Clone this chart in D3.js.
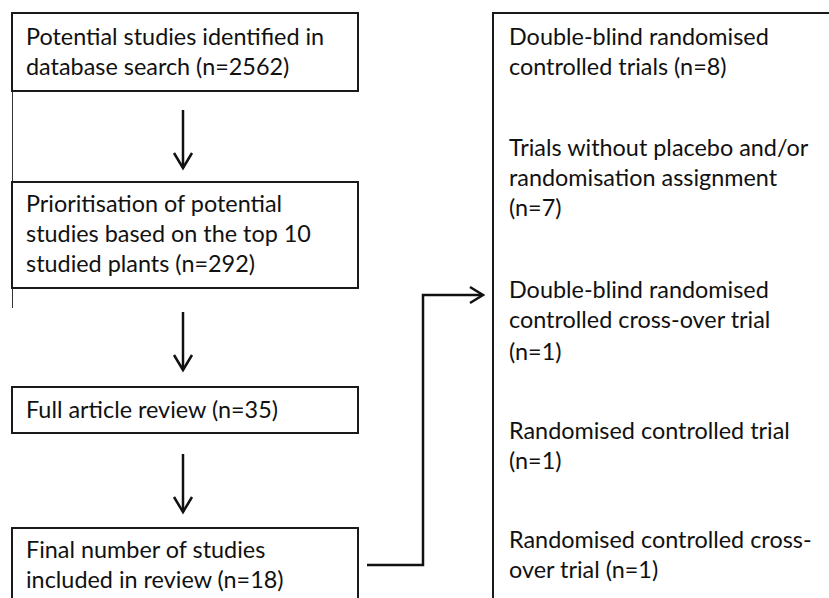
<!DOCTYPE html>
<html lang="en">
  <head>
    <meta charset="utf-8">
    <title>Flow</title>
    <script src="https://d3js.org/d3.v7.js"></script>
    <style>
      body { margin: 0; background: white; }
      text { font-family: Lato, "Open Sans", sans-serif; font-size: 23.4px; fill: #111; }
    </style>
  </head>
  <body>
    <script>
    // box texts, top to bottom on the left
    const stepTexts = [
      ["Potential studies identified in", "database search (n=2562)"],
      ["Prioritisation of potential", "studies based on the top 10", "studied plants (n=292)"],
      ["Full article review (n=35)"],
      ["Final number of studies", "included in review (n=18)"]
    ];

    // study designs in the right box
    const designTexts = [
      ["Double-blind randomised", "controlled trials (n=8)"],
      ["Trials without placebo and/or", "randomisation assignment", "(n=7)"],
      ["Double-blind randomised", "controlled cross-over trial", "(n=1)"],
      ["Randomised controlled trial", "(n=1)"],
      ["Randomised controlled cross-", "over trial (n=1)"]
    ];

    const w = 829, h = 598;
    const lineH = 30;

    const svg = d3.select("body").append("svg")
                  .attr("width", w).attr("height", h);

    svg.append("rect").attr("width", w).attr("height", h).attr("fill", "white");

    // left column geometry
    const boxX = d3.scaleLinear().domain([0, 1]).range([12, 358]);
    const boxTop = [13, 182, 387, 528];
    const boxBottom = [91, 288, 433, 640];
    const firstBase = [45, 212, 418, 558];

    const g = svg.append("g");

    // thin stray line on the left edge
    g.append("line")
     .attr("x1", 12.5).attr("x2", 12.5)
     .attr("y1", boxBottom[0]).attr("y2", 308)
     .attr("stroke", "#333").attr("stroke-width", 1);

    stepTexts.forEach((lines, i) => {
      g.append("rect")
       .attr("x", boxX(0)).attr("y", boxTop[i])
       .attr("width", boxX(1) - boxX(0))
       .attr("height", boxBottom[i] - boxTop[i])
       .attr("fill", "none").attr("stroke", "#1a1a1a").attr("stroke-width", 2);

      g.selectAll(null).data(lines).enter().append("text")
       .attr("x", 26)
       .attr("y", (d, j) => firstBase[i] + j * lineH)
       .text(d => d);
    });

    // down arrows between left boxes
    const arrowX = 183;
    const arrows = [[110, 168], [312, 370], [454, 512]];
    arrows.forEach(a => {
      g.append("line")
       .attr("x1", arrowX).attr("x2", arrowX)
       .attr("y1", a[0]).attr("y2", a[1])
       .attr("stroke", "#111").attr("stroke-width", 2.5);
      g.append("path")
       .attr("d", `M${arrowX - 9},${a[1] - 15} L${arrowX},${a[1]} L${arrowX + 9},${a[1] - 15}`)
       .attr("fill", "none").attr("stroke", "#111").attr("stroke-width", 2.5);
    });

    // elbow connector to the right box
    g.append("path")
     .attr("d", "M367,565 L423,565 L423,295 L482,295")
     .attr("fill", "none").attr("stroke", "#111").attr("stroke-width", 2.5);
    g.append("path")
     .attr("d", "M470,287 L483,295 L470,303")
     .attr("fill", "none").attr("stroke", "#111").attr("stroke-width", 2.5);

    // right box
    g.append("rect")
     .attr("x", 493).attr("y", 13)
     .attr("width", 400).attr("height", 700)
     .attr("fill", "none").attr("stroke", "#1a1a1a").attr("stroke-width", 2);

    const designBase = [45, 156, 298, 439, 548];
    designTexts.forEach((lines, i) => {
      g.selectAll(null).data(lines).enter().append("text")
       .attr("x", 509)
       .attr("y", (d, j) => designBase[i] + j * lineH + (i == 2 && j == 2 ? 2 : 0))
       .text(d => d);
    });
    </script>
  </body>
</html>
